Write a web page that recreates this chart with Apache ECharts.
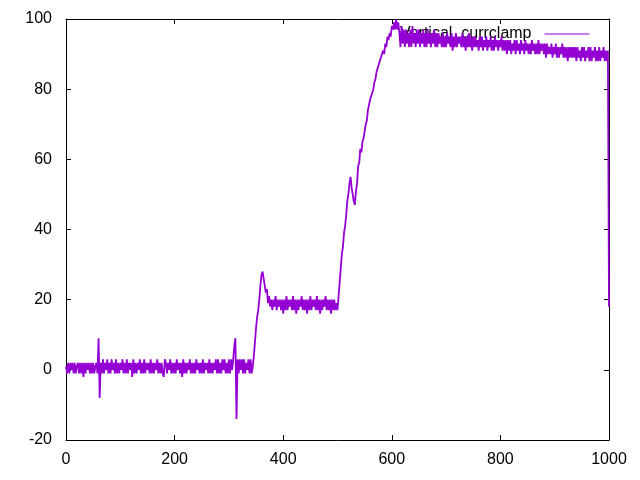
<!DOCTYPE html>
<html>
<head>
<meta charset="utf-8">
<script src="https://cdn.jsdelivr.net/npm/echarts@6/dist/echarts.min.js"></script>
<style>html,body{margin:0;padding:0;background:#fff}#c{width:640px;height:480px}</style>
</head>
<body>
<div id="c"></div>
<script>
// sample spacing along x
var xStep = 2;
var seriesName = 'Vertical_currclamp';
var xTicks = [0, 200, 400, 600, 800, 1000];
var yTicks = [-20, 0, 20, 40, 60, 80, 100];

// x = 0 .. 344
var baseline = [
  1,-1,2,-1,2,0,2,-1,2,-1,1,2,-1,2,-1,2,-2,2,-1,2,
  0,2,-1,2,-1,2,-1,1,2,-1,
  9,-8,
  2,-1,3,-1,2,0,3,-1,2,-1,3,0,2,-1,3,-1,2,-1,2,0,
  3,-1,2,-1,3,-1,2,0,2,-2,3,-1,2,-1,2,0,3,-1,2,-1,
  3,-1,2,0,2,-1,3,-1,2,-1,2,0,3,-1,2,-1,2,-1,-2,3,
  2,-1,2,0,3,-1,2,-1,2,-1,3,0,2,-1,2,-2,3,-1,2,-1,
  2,0,3,-1,2,-1,2,-1,3,0,2,-1,2,-1,3,-1,2,0,2,-1,
  3,-1,2,-1,2,0,3,-1,3,-1,2,-1,3,0,3,-1,2,-1,3,-1,
  3,0,3,7,9,-14,3,-1,3,0,3,-1,3,-1,2,0,3,-1,3,-1,1
];
// x = 346 .. 370
var rise1 = [4,8,12,15,17,20,24,27,28,26,24,22,23];
// x = 372 .. 500
var plateau1 = [
  19,21,18,20,17,20,18,21,17,20,18,20,17,20,16,20,17,21,17,20,
  18,20,17,21,17,20,16,20,17,20,18,21,17,20,17,20,16,20,17,21,
  17,20,18,20,17,21,17,20,16,20,17,20,18,21,17,20,17,20,16,20,
  17,20,17,19,17
];
// x = 502 .. 612
var rise2 = [
  21,25,29,33,35,39,41,44,48,50,
  53,55,52,50,48,47,51,53,58,59,
  63,62,65,66,68,70,71,74,74,77,
  77,79,80,82,83,85,85,87,87,89,
  90,91,90,93,92,95,94,96,95,98,
  97,99,97,100,97,99
];
// x = 614 .. 998
var plateau2 = [
  96,92,98,93,97,92,97,93,96,92,97,92,98,93,96,92,97,93,97,92,
  96,93,97,92,96,92,97,93,96,92,96,93,97,92,96,92,96,93,95,92,
  96,92,95,92,96,93,95,92,96,91,95,92,96,92,95,93,95,92,96,92,
  95,91,95,92,96,92,95,91,95,92,95,92,94,91,95,92,95,91,94,92,
  95,91,94,92,95,91,94,91,95,92,94,91,94,92,95,91,94,91,94,90,
  94,91,94,90,93,91,94,90,94,91,93,90,94,91,93,90,94,91,93,90,
  93,90,94,91,93,90,93,90,94,90,93,91,93,90,93,89,93,90,92,90,
  93,89,92,90,93,89,92,89,92,90,93,89,92,89,92,88,92,89,92,89,
  92,89,92,88,92,89,91,88,92,89,92,88,91,89,92,88,92,88,91,89,
  92,88,91,88,92,88,91,89,92,88,91,88,91
];
// x = 1000
var ending = [18];

var values = baseline.concat(rise1, plateau1, rise2, plateau2, ending);
var data = values.map(function (v, i) { return [i * xStep, v]; });

var font = '"Liberation Sans", Arial, sans-serif';
var chart = echarts.init(document.getElementById('c'), null, {renderer: 'canvas'});
function axisCommon() {
  return {
    axisLine: {show: true, onZero: false, lineStyle: {color: '#000', width: 1}},
    axisTick: {show: true, inside: true, length: 5, lineStyle: {color: '#000'}},
    splitLine: {show: false}
  };
}
chart.setOption({
  animation: false,
  backgroundColor: '#fff',
  grid: {left: 66, right: 31, top: 19, bottom: 40},
  legend: {
    data: [seriesName],
    right: 50, top: 26, align: 'right', padding: 0,
    itemWidth: 45, itemHeight: 14, z: 1,
    itemStyle: {opacity: 0},
    lineStyle: {width: 1, color: '#9400D3'},
    textStyle: {fontFamily: font, fontSize: 16, color: '#000', padding: [0, 8, 0, 0]}
  },
  xAxis: [
    Object.assign({type: 'value', position: 'bottom', min: xTicks[0], max: xTicks[xTicks.length - 1], interval: 200,
      axisLabel: {fontFamily: font, fontSize: 16, color: '#000', margin: 12, formatter: function (v) { return String(v); }}}, axisCommon()),
    Object.assign({type: 'value', position: 'top', min: xTicks[0], max: xTicks[xTicks.length - 1], interval: 200,
      axisLabel: {show: false}}, axisCommon())
  ],
  yAxis: [
    Object.assign({type: 'value', position: 'left', min: yTicks[0], max: yTicks[yTicks.length - 1], interval: 20,
      axisLabel: {fontFamily: font, fontSize: 16, color: '#000', margin: 14, formatter: function (v) { return String(v); }}}, axisCommon()),
    Object.assign({type: 'value', position: 'right', min: yTicks[0], max: yTicks[yTicks.length - 1], interval: 20,
      axisLabel: {show: false}}, axisCommon())
  ],
  series: [{
    name: seriesName,
    type: 'line',
    data: data,
    xAxisIndex: 0, yAxisIndex: 0,
    symbol: 'none', showSymbol: false,
    z: 3,
    lineStyle: {color: '#9400D3', width: 1.8},
    itemStyle: {color: '#9400D3'},
    emphasis: {disabled: true},
    silent: true
  }]
});
</script>
</body>
</html>
